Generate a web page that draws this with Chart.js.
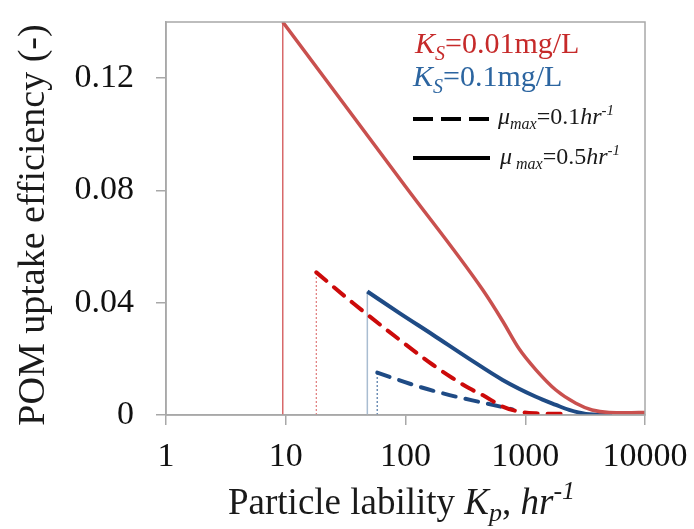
<!DOCTYPE html>
<html>
<head>
<meta charset="utf-8">
<script src="https://cdn.jsdelivr.net/npm/chart.js@4.4.1/dist/chart.umd.min.js"></script>
<style>
  html, body { margin: 0; padding: 0; background: #fff; }
  #wrap { width: 694px; height: 529px; }
</style>
</head>
<body>
<div id="wrap"><canvas id="c"></canvas></div>
<script>
// axis ticks
const xTicks = [1, 10, 100, 1000, 10000];
const yTicks = [0, 0.04, 0.08, 0.12];
const yTickLabels = ['0', '0.04', '0.08', '0.12'];

// Ks=0.01, mu_max=0.5 (red solid)
const redSolidX = [9.44, 100, 441, 647, 891, 1228, 1802, 2644, 3615, 5012, 7000, 10000];
const redSolidY = [0.14, 0.0814, 0.0446, 0.0335, 0.0235, 0.0161, 0.0089, 0.0042, 0.0018, 0.0009, 0.0008, 0.0009];
// Ks=0.01, mu_max=0.1 (red dashed)
const redDashX = [18.0, 36.4, 89.1, 169, 248, 341, 441, 647, 891, 1228, 2183];
const redDashY = [0.0508, 0.0399, 0.0268, 0.0179, 0.0131, 0.0095, 0.0071, 0.003, 0.0012, 0.0006, 0.0004];
// Ks=0.1, mu_max=0.5 (blue solid)
const blueSolidX = [48, 89.1, 169, 341, 647, 1228, 1802, 2326, 3206, 5309];
const blueSolidY = [0.044, 0.0363, 0.0286, 0.0200, 0.0125, 0.0065, 0.0036, 0.0018, 0.0004, 0];
// Ks=0.1, mu_max=0.1 (blue dashed)
const blueDashX = [58.1, 123, 233, 441, 784];
const blueDashY = [0.0151, 0.0104, 0.0071, 0.0044, 0.002];

// drop lines at the threshold lability of each curve
const dropX = [9.44, 18.0, 48, 58.1];
const dropTop = [0.14, 0.0508, 0.044, 0.0151];

const zip = (xs, ys) => xs.map((x, i) => ({ x, y: ys[i] }));

function curve(xs, ys, color, width, dash) {
  return {
    data: zip(xs, ys), borderColor: color, borderWidth: width, borderDash: dash || [],
    borderCapStyle: dash ? 'round' : 'butt', pointRadius: 0, fill: false,
    cubicInterpolationMode: 'monotone'
  };
}
function drop(i, color, width, dash) {
  return {
    data: zip([dropX[i], dropX[i]], [0, dropTop[i]]), borderColor: color, borderWidth: width,
    borderDash: dash || [], pointRadius: 0, fill: false
  };
}

const SERIF = '"Liberation Serif", "Times New Roman", serif';
const AXIS = '#a8a8a8';

function drawRuns(ctx, x, y, parts) {
  parts.forEach(p => {
    ctx.font = p.f;
    ctx.fillStyle = p.c;
    ctx.fillText(p.t, x, y + (p.dy || 0));
    x += ctx.measureText(p.t).width + (p.gap || 0);
  });
}

const decor = {
  id: 'decor',
  afterDraw(chart) {
    const ctx = chart.ctx, a = chart.chartArea;
    ctx.save();
    // frame
    ctx.strokeStyle = AXIS; ctx.lineWidth = 1.5;
    ctx.strokeRect(a.left, a.top, a.right - a.left, a.bottom - a.top);

    ctx.textAlign = 'left'; ctx.textBaseline = 'alphabetic';
    // legend
    const red = '#c62a2a', blue = '#2c65a0', ink = '#1a1a1a';
    drawRuns(ctx, 415, 53, [
      { t: 'K', f: 'italic 30px ' + SERIF, c: red },
      { t: 'S', f: 'italic 20px ' + SERIF, c: red, dy: 7 },
      { t: '=0.01mg/L', f: '30px ' + SERIF, c: red }
    ]);
    drawRuns(ctx, 413, 86, [
      { t: 'K', f: 'italic 30px ' + SERIF, c: blue },
      { t: 'S', f: 'italic 20px ' + SERIF, c: blue, dy: 7 },
      { t: '=0.1mg/L', f: '30px ' + SERIF, c: blue }
    ]);
    ctx.strokeStyle = '#000'; ctx.lineWidth = 4;
    ctx.setLineDash([20, 8]);
    ctx.beginPath(); ctx.moveTo(413, 119); ctx.lineTo(490, 119); ctx.stroke();
    ctx.setLineDash([]);
    ctx.beginPath(); ctx.moveTo(413, 158); ctx.lineTo(490, 158); ctx.stroke();
    const mu = (x, y, v, gap) => drawRuns(ctx, x, y, [
      { t: 'μ', f: 'italic 24px ' + SERIF, c: ink, gap: gap },
      { t: 'max', f: 'italic 16px ' + SERIF, c: ink, dy: 5 },
      { t: '=' + v, f: '24px ' + SERIF, c: ink },
      { t: 'hr', f: 'italic 24px ' + SERIF, c: ink },
      { t: '-1', f: 'italic 15px ' + SERIF, c: ink, dy: -9 }
    ]);
    mu(498, 124, '0.1', 0);
    mu(500, 164, '0.5', 4);

    // x title
    drawRuns(ctx, 228, 514, [
      { t: 'Particle lability ', f: '37px ' + SERIF, c: ink },
      { t: 'K', f: 'italic 37px ' + SERIF, c: ink },
      { t: 'p', f: 'italic 26px ' + SERIF, c: ink, dy: 7 },
      { t: ', ', f: '37px ' + SERIF, c: ink },
      { t: 'hr', f: 'italic 37px ' + SERIF, c: ink },
      { t: '-1', f: 'italic 26px ' + SERIF, c: ink, dy: -15 }
    ]);
    // y title
    ctx.translate(44, 225); ctx.rotate(-Math.PI / 2);
    ctx.textAlign = 'center'; ctx.font = '38px ' + SERIF; ctx.fillStyle = ink;
    ctx.fillText('POM uptake efficiency (-)', 0, 0);
    ctx.restore();
  }
};

new Chart(document.getElementById('c'), {
  type: 'line',
  data: {
    datasets: [
      curve(redSolidX, redSolidY, '#c9504e', 3.5),
      curve(blueSolidX, blueSolidY, '#1f4b85', 4),
      curve(redDashX, redDashY, '#cc0a0a', 4, [13, 10]),
      curve(blueDashX, blueDashY, '#1f4b85', 4, [13, 10]),
      drop(0, '#d8696a', 1.5),
      drop(1, '#e07a7a', 1.2, [2, 2]),
      drop(2, '#a9bdd1', 1.5),
      drop(3, '#6f8fb5', 1.5, [2, 2])
    ]
  },
  options: {
    responsive: true, maintainAspectRatio: false, animation: false,
    layout: { padding: { top: 22, right: 49, left: 0, bottom: 0 } },
    plugins: { legend: { display: false }, tooltip: { enabled: false } },
    scales: {
      x: {
        type: 'logarithmic', min: 1, max: 10000,
        afterBuildTicks: s => { s.ticks = xTicks.map(v => ({ value: v })); },
        afterFit: s => { s.height = 114; s.paddingLeft = 0; s.paddingRight = 0; },
        ticks: { callback: v => String(v), font: { family: SERIF, size: 34 }, color: '#111', padding: 12, maxRotation: 0, autoSkip: false },
        grid: { drawOnChartArea: false, tickLength: 10, color: AXIS, lineWidth: 1.5 },
        border: { color: AXIS, width: 1.5 }
      },
      y: {
        type: 'linear', min: 0, max: 0.14,
        afterBuildTicks: s => { s.ticks = yTicks.map(v => ({ value: v })); },
        afterFit: s => { s.width = 166; s.paddingTop = 0; s.paddingBottom = 0; },
        ticks: { callback: (v, i) => yTickLabels[i], font: { family: SERIF, size: 34 }, color: '#111', padding: 22 },
        grid: { drawOnChartArea: false, tickLength: 10, color: AXIS, lineWidth: 1.5 },
        border: { color: AXIS, width: 1.5 }
      }
    }
  },
  plugins: [decor]
});
</script>
</body>
</html>
